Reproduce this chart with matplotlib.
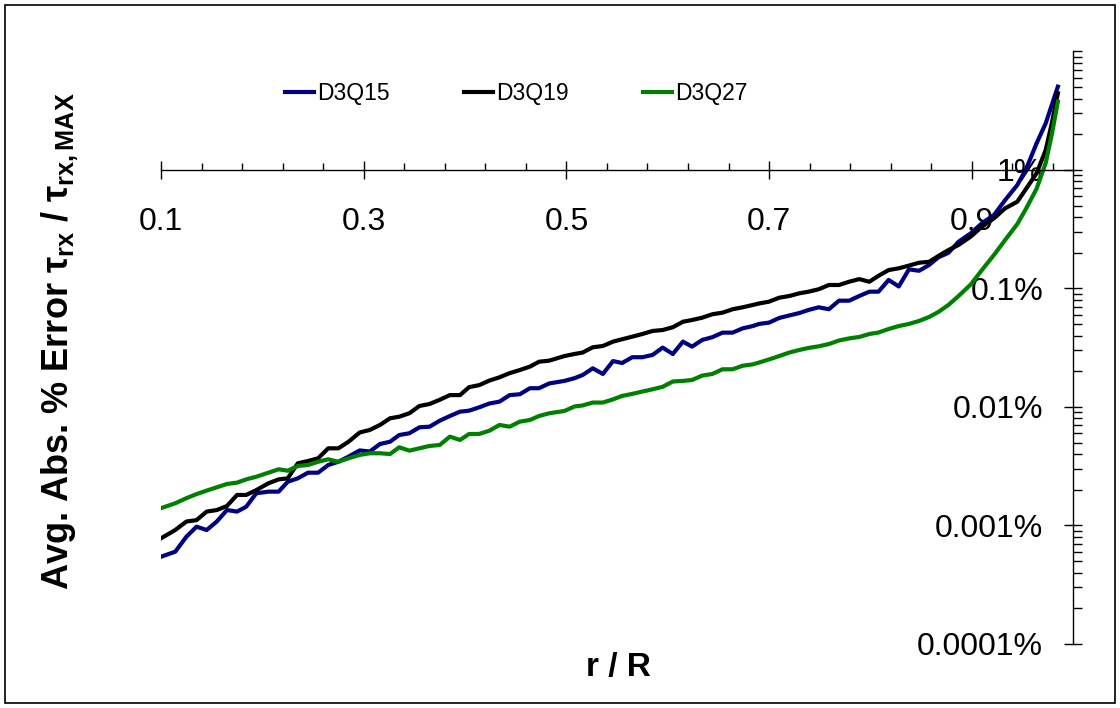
import numpy as np
import matplotlib
matplotlib.use('Agg')
import matplotlib.pyplot as plt
from matplotlib.ticker import FixedLocator, FuncFormatter, NullFormatter
from matplotlib.patches import Rectangle

plt.rcParams['font.family'] = ['Liberation Sans', 'DejaVu Sans']
plt.rcParams['mathtext.fontset'] = 'custom'
plt.rcParams['mathtext.rm'] = 'Liberation Sans:bold'
plt.rcParams['mathtext.it'] = 'Liberation Sans:bold'
plt.rcParams['mathtext.bf'] = 'Liberation Sans:bold'

# r / R positions (shared by the three lattices)
r = [0.100, 0.114, 0.125, 0.135, 0.145, 0.155, 0.165, 0.175, 0.184, 0.194,
     0.206, 0.216, 0.225, 0.235, 0.245, 0.255, 0.265, 0.275, 0.285, 0.296,
     0.306, 0.316, 0.326, 0.335, 0.345, 0.355, 0.365, 0.375, 0.385, 0.395,
     0.404, 0.414, 0.424, 0.434, 0.444, 0.454, 0.464, 0.473, 0.483, 0.498,
     0.508, 0.516, 0.526, 0.536, 0.546, 0.555, 0.565, 0.575, 0.585, 0.595,
     0.605, 0.615, 0.624, 0.634, 0.644, 0.654, 0.664, 0.674, 0.684, 0.690,
     0.700, 0.710, 0.720, 0.730, 0.739, 0.749, 0.759, 0.769, 0.779, 0.789,
     0.799, 0.808, 0.818, 0.828, 0.838, 0.848, 0.858, 0.867, 0.877, 0.887,
     0.899, 0.910, 0.922, 0.933, 0.945, 0.954, 0.964, 0.973, 0.979, 0.985]

# avg. abs. error in percent
d3q15 = [0.000545, 0.000601, 0.000804, 0.000977, 0.000916, 0.00108, 0.00135, 0.00131, 0.00144, 0.00187,
         0.00193, 0.00193, 0.00234, 0.00250, 0.00279, 0.00279, 0.00324, 0.00345, 0.00381, 0.00430,
         0.00421, 0.00487, 0.00509, 0.00580, 0.00600, 0.00674, 0.00682, 0.00766, 0.00839, 0.00913,
         0.00931, 0.00994, 0.0107, 0.0111, 0.0126, 0.0128, 0.0144, 0.0144, 0.0158, 0.0166,
         0.0175, 0.0186, 0.0212, 0.0190, 0.0244, 0.0235, 0.0263, 0.0263, 0.0275, 0.0317,
         0.0280, 0.0356, 0.0323, 0.0368, 0.0388, 0.0424, 0.0424, 0.0461, 0.0482, 0.0502,
         0.0515, 0.0564, 0.0592, 0.0621, 0.0659, 0.0694, 0.0668, 0.0789, 0.0789, 0.0864,
         0.0940, 0.0940, 0.118, 0.104, 0.145, 0.141, 0.158, 0.183, 0.200, 0.248,
         0.292, 0.355, 0.417, 0.558, 0.747, 1.034, 1.680, 2.478, 3.536, 5.047]

d3q19 = [0.00078, 0.000916, 0.00108, 0.00111, 0.00131, 0.00135, 0.00146, 0.00181, 0.00181, 0.00199,
         0.00227, 0.00245, 0.00250, 0.00335, 0.00350, 0.00369, 0.00448, 0.00448, 0.00509, 0.00609,
         0.00640, 0.00705, 0.00803, 0.00828, 0.00885, 0.0102, 0.0106, 0.0115, 0.0126, 0.0126,
         0.0147, 0.0153, 0.0167, 0.0178, 0.0193, 0.0205, 0.0219, 0.0241, 0.0246, 0.0269,
         0.0280, 0.0288, 0.0319, 0.0327, 0.0356, 0.0373, 0.0392, 0.0413, 0.0438, 0.0446,
         0.0471, 0.0524, 0.0542, 0.0567, 0.0606, 0.0625, 0.0668, 0.0694, 0.0726, 0.0747,
         0.0774, 0.0836, 0.0864, 0.0911, 0.0940, 0.0985, 0.107, 0.107, 0.114, 0.120,
         0.114, 0.128, 0.143, 0.148, 0.156, 0.165, 0.168, 0.188, 0.211, 0.233,
         0.274, 0.332, 0.391, 0.475, 0.540, 0.701, 0.938, 1.475, 2.478, 4.440]

d3q27 = [0.00140, 0.00154, 0.00170, 0.00184, 0.00197, 0.00210, 0.00224, 0.00230, 0.00245, 0.00258,
         0.00279, 0.00298, 0.00290, 0.00318, 0.00324, 0.00345, 0.00362, 0.00345, 0.00369, 0.00394,
         0.00407, 0.00407, 0.00401, 0.00457, 0.00428, 0.00448, 0.00469, 0.00478, 0.00562, 0.00527,
         0.00592, 0.00592, 0.00631, 0.00705, 0.00682, 0.00752, 0.00777, 0.00839, 0.00885, 0.00925,
         0.0101, 0.0103, 0.0109, 0.0109, 0.0116, 0.0124, 0.0129, 0.0135, 0.0141, 0.0148,
         0.0164, 0.0166, 0.0169, 0.0184, 0.0190, 0.0208, 0.0208, 0.0223, 0.0229, 0.0237,
         0.0252, 0.0269, 0.0288, 0.0303, 0.0315, 0.0325, 0.0340, 0.0364, 0.0379, 0.0390,
         0.0413, 0.0425, 0.0455, 0.0482, 0.0502, 0.0532, 0.0575, 0.0633, 0.0726, 0.0864,
         0.108, 0.143, 0.192, 0.257, 0.350, 0.478, 0.695, 1.146, 1.990, 3.770]

x_major = [0.1, 0.3, 0.5, 0.7, 0.9]
y_major = [1e-4, 1e-3, 1e-2, 1e-1, 1]

fig = plt.figure(figsize=(11.2, 7.08), dpi=100)
ax = fig.add_axes([0.1438, 0.0904, 0.8143, 0.8369])

ax.plot(r, d3q15, color='#000080', lw=3, label='D3Q15', solid_joinstyle='round')
ax.plot(r, d3q19, color='black', lw=3, label='D3Q19', solid_joinstyle='round')
ax.plot(r, d3q27, color='#008000', lw=3, label='D3Q27', solid_joinstyle='round')

ax.set_yscale('log')
ax.set_xlim(0.1, 1.0)
ax.set_ylim(1e-4, 10)

# axes cross at r/R = 1 and 1 %
ax.spines['top'].set_visible(False)
ax.spines['right'].set_visible(False)
ax.spines['left'].set_position(('data', 1.0))
ax.spines['bottom'].set_position(('data', 1.0))
for s in ['left', 'bottom']:
    ax.spines[s].set_linewidth(1.0)

ax.xaxis.set_major_locator(FixedLocator(x_major))
ax.xaxis.set_minor_locator(FixedLocator(np.arange(0.1, 1.0, 0.04)))
ax.xaxis.set_major_formatter(FuncFormatter(lambda v, p: f'{v:.1f}'))
ax.yaxis.set_major_locator(FixedLocator(y_major))
ax.yaxis.set_minor_locator(FixedLocator([m * 10.0**k for k in range(-4, 1) for m in range(2, 11)]))
ax.yaxis.set_major_formatter(FuncFormatter(lambda v, p: f'{v:g}%'))
ax.yaxis.set_minor_formatter(NullFormatter())

ax.tick_params(axis='x', which='major', direction='inout', length=13, width=1, labelsize=23, pad=20)
ax.tick_params(axis='x', which='minor', direction='in', length=5, width=1)
ax.tick_params(axis='y', which='major', direction='inout', length=13, width=1, labelsize=23, pad=15)
ax.tick_params(axis='y', which='minor', direction='in', length=6.5, width=1)

ax.legend(loc='center', bbox_to_anchor=(0.461, 0.8686), bbox_transform=fig.transFigure,
          ncol=3, frameon=False, fontsize=16.5, handlelength=1.25, handletextpad=0.15,
          columnspacing=3.25, borderpad=0)

fig.text(0.0536, 0.518, r'Avg. Abs. % Error $\tau_{rx}$ / $\tau_{rx,MAX}$', rotation=90,
         ha='center', va='center', fontsize=26, fontweight='bold')
fig.text(0.552, 0.0565, 'r / R', ha='center', va='center', fontsize=24, fontweight='bold')

fig.patches.append(Rectangle((0.0045, 0.007), 0.991, 0.986, transform=fig.transFigure,
                             fill=False, ec='black', lw=1.2))

fig.savefig('out.png', dpi=100)
